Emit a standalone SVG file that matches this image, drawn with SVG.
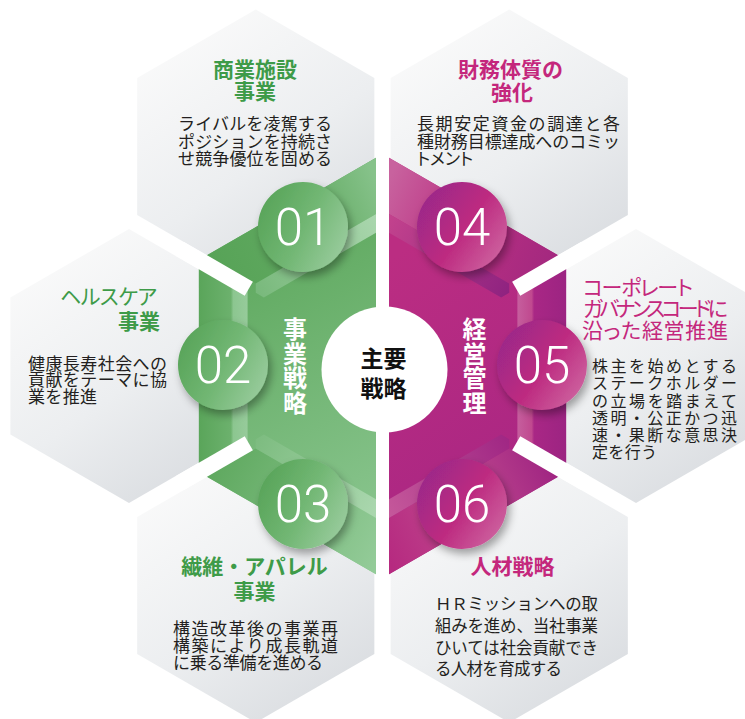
<svg xmlns="http://www.w3.org/2000/svg" width="745" height="719" viewBox="0 0 745 719">
<style>
.h{font-family:"Noto Sans CJK JP","Noto Sans",sans-serif;font-size:21px;font-weight:bold}
.hg{fill:#3e9b48}
.hm{fill:#c4277c}
.b{font-family:"Noto Sans CJK JP","Noto Sans",sans-serif;font-size:17px;fill:#231f20}
.palt{font-feature-settings:"palt" 1}
.num{font-family:Roboto,"Liberation Sans",sans-serif;font-size:51px;font-weight:300;fill:#fff;text-anchor:middle}
.v{font-family:"Noto Sans CJK JP",sans-serif;font-size:24px;font-weight:bold;fill:#fff;text-anchor:middle}
.c{font-family:"Noto Sans CJK JP",sans-serif;font-size:23px;font-weight:bold;fill:#111;text-anchor:middle}
.hex{fill:url(#hexG)}
.gap{stroke:#fff;stroke-width:16.3;fill:none}
</style>
<defs>
<linearGradient id="hexG" x1="0.2" y1="0" x2="0.8" y2="1">
<stop offset="0" stop-color="#fbfbfb"/><stop offset="0.55" stop-color="#eceef0"/><stop offset="1" stop-color="#d8dbdf"/>
</linearGradient>
<linearGradient id="gBase" gradientUnits="userSpaceOnUse" x1="230" y1="260" x2="376" y2="540">
<stop offset="0" stop-color="#5fa95f"/><stop offset="1" stop-color="#8bc690"/>
</linearGradient>
<linearGradient id="g01" gradientUnits="userSpaceOnUse" x1="207" y1="255" x2="376" y2="180">
<stop offset="0" stop-color="#57a357"/><stop offset="0.6" stop-color="#62aa62"/><stop offset="1" stop-color="#86c28a"/>
</linearGradient>
<linearGradient id="g02" gradientUnits="userSpaceOnUse" x1="199" y1="0" x2="248" y2="0">
<stop offset="0" stop-color="#5aa55a"/><stop offset="0.65" stop-color="#6cb16d"/><stop offset="0.7" stop-color="#8cc690"/><stop offset="1" stop-color="#97cb9b"/>
</linearGradient>
<linearGradient id="g03" gradientUnits="userSpaceOnUse" x1="207" y1="470" x2="376" y2="560">
<stop offset="0" stop-color="#5ea85e"/><stop offset="1" stop-color="#93cb98"/>
</linearGradient>
<linearGradient id="gS1" gradientUnits="userSpaceOnUse" x1="256" y1="290" x2="376" y2="220">
<stop offset="0" stop-color="#79b97c"/><stop offset="1" stop-color="#a9d6ad"/>
</linearGradient>
<linearGradient id="gS3" gradientUnits="userSpaceOnUse" x1="256" y1="440" x2="376" y2="510">
<stop offset="0" stop-color="#7dbc80"/><stop offset="1" stop-color="#aad7ae"/>
</linearGradient>
<linearGradient id="mBase" gradientUnits="userSpaceOnUse" x1="389" y1="260" x2="566" y2="520">
<stop offset="0" stop-color="#bb2d82"/><stop offset="1" stop-color="#a62583"/>
</linearGradient>
<linearGradient id="m04" gradientUnits="userSpaceOnUse" x1="389" y1="180" x2="558" y2="255">
<stop offset="0" stop-color="#c8629e"/><stop offset="0.45" stop-color="#bb3183"/><stop offset="1" stop-color="#a3287f"/>
</linearGradient>
<linearGradient id="m05" gradientUnits="userSpaceOnUse" x1="517" y1="0" x2="566" y2="0">
<stop offset="0" stop-color="#c65f9e"/><stop offset="0.3" stop-color="#c0498f"/><stop offset="0.35" stop-color="#a92785"/><stop offset="1" stop-color="#9c2482"/>
</linearGradient>
<linearGradient id="m06" gradientUnits="userSpaceOnUse" x1="389" y1="560" x2="558" y2="480">
<stop offset="0" stop-color="#b62a80"/><stop offset="0.5" stop-color="#c04a8f"/><stop offset="1" stop-color="#a02582"/>
</linearGradient>
<linearGradient id="mS4" gradientUnits="userSpaceOnUse" x1="389" y1="220" x2="509" y2="290">
<stop offset="0" stop-color="#c2428d"/><stop offset="1" stop-color="#8f2380"/>
</linearGradient>
<linearGradient id="mS6" gradientUnits="userSpaceOnUse" x1="389" y1="510" x2="509" y2="440">
<stop offset="0" stop-color="#c4579a"/><stop offset="1" stop-color="#a02784"/>
</linearGradient>
<linearGradient id="gC" x1="0" y1="0.3" x2="1" y2="0.8">
<stop offset="0" stop-color="#58a459"/><stop offset="0.5" stop-color="#72b774"/><stop offset="1" stop-color="#9ccda0"/>
</linearGradient>
<linearGradient id="mC" x1="0" y1="0.2" x2="1" y2="0.9">
<stop offset="0" stop-color="#99288a"/><stop offset="0.5" stop-color="#bd2a80"/><stop offset="1" stop-color="#d06ca4"/>
</linearGradient>
<filter id="sh" x="-30%" y="-30%" width="170%" height="170%">
<feDropShadow dx="3" dy="5" stdDeviation="4" flood-color="#000" flood-opacity="0.35"/>
</filter>
</defs>

<rect width="745" height="719" fill="#fff"/>

<g id="hex-01">
<polygon class="hex" points="255.75,9.5 374.35,78 374.35,215 255.75,283.5 137.15,215 137.15,78"/>
</g>
<g id="hex-04">
<polygon class="hex" points="509.25,9.5 627.85,78 627.85,215 509.25,283.5 390.65,215 390.65,78"/>
</g>
<g id="hex-02">
<polygon class="hex" points="129,229 247.6,297.5 247.6,434.5 129,503 10.4,434.5 10.4,297.5"/>
</g>
<g id="hex-05">
<polygon class="hex" points="636,229 754.6,297.5 754.6,434.5 636,503 517.4,434.5 517.4,297.5"/>
</g>
<g id="hex-03">
<polygon class="hex" points="255.75,448.5 374.35,517 374.35,654 255.75,722.5 137.15,654 137.15,517"/>
</g>
<g id="hex-06">
<polygon class="hex" points="509.25,448.5 627.85,517 627.85,654 509.25,722.5 390.65,654 390.65,517"/>
</g>

<g id="panel-green">
<polygon fill="url(#gBase)" points="376,157.75 198.9,260 198.9,472 376,574.25"/>
<polygon fill="url(#g01)" points="376,157.75 206.8,255.3 255.75,283.5 376,214.05"/>
<polygon fill="url(#g02)" points="198.9,260 247.6,288 247.6,444 198.9,472"/>
<polygon fill="url(#g03)" points="255.75,448.5 376,517.95 376,574.25 206.8,476.7"/>
<polygon fill="url(#gS1)" points="255.75,283.5 376,214.05 376,232.75 263.85,297.5 255.75,292.8"/>
<polygon fill="url(#gS3)" points="255.75,439.2 263.85,434.5 376,499.25 376,517.95 255.75,448.5"/>
</g>
<g id="panel-magenta">
<polygon fill="url(#mBase)" points="389,157.75 566.1,260 566.1,472 389,574.25"/>
<polygon fill="url(#m04)" points="389,157.75 558.2,255.3 509.25,283.5 389,214.05"/>
<polygon fill="url(#m05)" points="566.1,260 517.4,288 517.4,444 566.1,472"/>
<polygon fill="url(#m06)" points="509.25,448.5 389,517.95 389,574.25 558.2,476.7"/>
<polygon fill="url(#mS4)" points="509.25,283.5 389,214.05 389,232.75 501.15,297.5 509.25,292.8"/>
<polygon fill="url(#mS6)" points="509.25,439.2 501.15,434.5 389,499.25 389,517.95 509.25,448.5"/>
</g>
<g id="gaps">
<line class="gap" x1="248.8" y1="288.8" x2="180" y2="249"/>
<line class="gap" x1="248.8" y1="443.2" x2="180" y2="483"/>
<line class="gap" x1="516.2" y1="288.8" x2="585" y2="249"/>
<line class="gap" x1="516.2" y1="443.2" x2="585" y2="483"/>
</g>

<g id="center">
<circle cx="384.5" cy="369.5" r="63" fill="#fff"/>
<text class="c" x="383.5" y="367">主要</text>
<text class="c" x="383.5" y="397">戦略</text>
</g>
<g id="label-business">
<text class="v" x="295"><tspan x="295" y="338">事</tspan><tspan x="295" y="362.5">業</tspan><tspan x="295" y="387">戦</tspan><tspan x="295" y="411.5">略</tspan></text>
</g>
<g id="label-management">
<text class="v" x="474.5"><tspan x="474.5" y="338">経</tspan><tspan x="474.5" y="362.5">営</tspan><tspan x="474.5" y="387">管</tspan><tspan x="474.5" y="411.5">理</tspan></text>
</g>

<g id="badge-01"><circle cx="303" cy="227" r="45" fill="url(#gC)" filter="url(#sh)"/><text class="num" x="303" y="245">01</text></g>
<g id="badge-02"><circle cx="223" cy="365" r="45" fill="url(#gC)" filter="url(#sh)"/><text class="num" x="223" y="383">02</text></g>
<g id="badge-03"><circle cx="303" cy="504" r="45" fill="url(#gC)" filter="url(#sh)"/><text class="num" x="303" y="522">03</text></g>
<g id="badge-04"><circle cx="462" cy="227" r="45" fill="url(#mC)" filter="url(#sh)"/><text class="num" x="462" y="245">04</text></g>
<g id="badge-05"><circle cx="542" cy="365" r="45" fill="url(#mC)" filter="url(#sh)"/><text class="num" x="542" y="383">05</text></g>
<g id="badge-06"><circle cx="462" cy="504" r="45" fill="url(#mC)" filter="url(#sh)"/><text class="num" x="462" y="522">06</text></g>

<g id="text-01">
<text class="h hg" x="255" y="77" text-anchor="middle">商業施設</text>
<text class="h hg" x="255" y="99" text-anchor="middle">事業</text>
<text class="b" x="178" y="130" textLength="154" lengthAdjust="spacing">ライバルを凌駕する</text>
<text class="b" x="178" y="147.5" textLength="154" lengthAdjust="spacing">ポジションを持続さ</text>
<text class="b" x="178" y="165" textLength="154" lengthAdjust="spacing">せ競争優位を固める</text>
</g>
<g id="text-04">
<text class="h hm" x="510.5" y="77" text-anchor="middle">財務体質の</text>
<text class="h hm" x="512" y="100" text-anchor="middle">強化</text>
<text class="b" x="417" y="130" textLength="203" lengthAdjust="spacing">長期安定資金の調達と各</text>
<text class="b" x="417" y="147.5" textLength="203" lengthAdjust="spacing">種財務目標達成へのコミッ</text>
<text class="b palt" x="417" y="165">トメント</text>
</g>
<g id="text-02">
<text class="h hg palt" style="font-weight:normal" x="60" y="304" textLength="97" lengthAdjust="spacing">ヘルスケア</text>
<text class="h hg" x="160" y="329" text-anchor="end">事業</text>
<text class="b" x="28" y="370" textLength="139" lengthAdjust="spacing">健康長寿社会への</text>
<text class="b" x="28" y="386.3" textLength="139" lengthAdjust="spacing">貢献をテーマに協</text>
<text class="b" x="28" y="402.5" textLength="69" lengthAdjust="spacing">業を推進</text>
</g>
<g id="text-05">
<text class="h hm palt" style="font-weight:normal" x="583" y="294.5" textLength="110" lengthAdjust="spacing">コーポレート</text>
<text class="h hm palt" style="font-weight:normal" x="583" y="315.5" textLength="145" lengthAdjust="spacing">ガバナンスコードに</text>
<text class="h hm palt" style="font-weight:normal" x="582" y="337.5" textLength="146" lengthAdjust="spacing">沿った経営推進</text>
<text class="b" style="font-size:16px" x="592" y="372" textLength="145" lengthAdjust="spacing">株主を始めとする</text>
<text class="b" style="font-size:16px" x="592" y="389.3" textLength="145" lengthAdjust="spacing">ステークホルダー</text>
<text class="b" style="font-size:16px" x="592" y="406.5" textLength="145" lengthAdjust="spacing">の立場を踏まえて</text>
<text class="b" style="font-size:16px" x="592" y="423.8" textLength="145" lengthAdjust="spacing">透明・公正かつ迅</text>
<text class="b" style="font-size:16px" x="592" y="441" textLength="145" lengthAdjust="spacing">速・果断な意思決</text>
<text class="b" style="font-size:16px" x="592" y="458.3" textLength="65" lengthAdjust="spacing">定を行う</text>
</g>
<g id="text-03">
<text class="h hg" x="254.5" y="574" text-anchor="middle">繊維・アパレル</text>
<text class="h hg" x="254.5" y="599" text-anchor="middle">事業</text>
<text class="b" x="173" y="635" textLength="165" lengthAdjust="spacing">構造改革後の事業再</text>
<text class="b" x="173" y="652" textLength="165" lengthAdjust="spacing">構築により成長軌道</text>
<text class="b" x="173" y="668.5" textLength="150" lengthAdjust="spacing">に乗る準備を進める</text>
</g>
<g id="text-06">
<text class="h hm" x="512.5" y="574" text-anchor="middle">人材戦略</text>
<text class="b" style="font-size:16.5px" x="435" y="610" textLength="163" lengthAdjust="spacing">ＨＲミッションへの取</text>
<text class="b" style="font-size:16.5px" x="435" y="632" textLength="163" lengthAdjust="spacing">組みを進め、当社事業</text>
<text class="b" style="font-size:16.5px" x="435" y="654" textLength="163" lengthAdjust="spacing">ひいては社会貢献でき</text>
<text class="b" style="font-size:16.5px" x="435" y="675" textLength="127" lengthAdjust="spacing">る人材を育成する</text>
</g>
</svg>
